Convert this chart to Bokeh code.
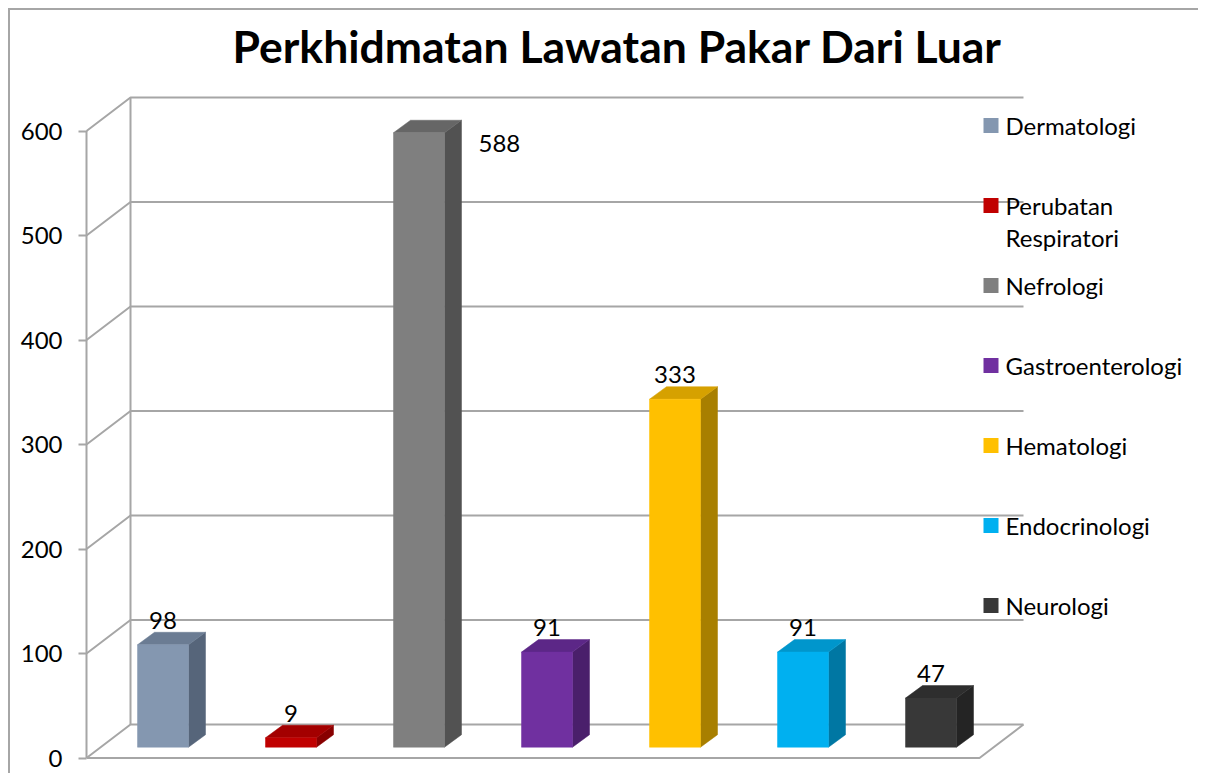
from bokeh.plotting import figure
from bokeh.models import Range1d, FixedTicker, BoxAnnotation, Label, ColumnDataSource
from bokeh.core.properties import value
from bokeh.embed import file_html
from bokeh.resources import INLINE

# ---------------- data ----------------
categories = ["Dermatologi", "Perubatan Respiratori", "Nefrologi", "Gastroenterologi",
              "Hematologi", "Endocrinologi", "Neurologi"]
counts = [98, 9, 588, 91, 333, 91, 47]
front_colors = ["#8497B0", "#C00000", "#7F7F7F", "#7030A0", "#FFC000", "#00B0F0", "#383838"]
side_colors = ["#56657A", "#880000", "#525252", "#4A1F6B", "#A87F00", "#0077A3", "#242424"]
top_colors = ["#6B7C93", "#A30000", "#666666", "#5C2787", "#D6A100", "#0096CC", "#2E2E2E"]
y_ticks = [0, 100, 200, 300, 400, 500, 600]
title_text = "Perkhidmatan Lawatan Pakar Dari Luar"

# ---------------- layout (pixels) ----------------
W, H = 1190, 765
MB_LEFT, MB_TOP, MB_BOTTOM = 74, 0, 12
PX_X = 128.0      # pixels per category
PX_Y = 1.045      # pixels per count unit
FRAME_W = W - MB_LEFT
FRAME_H = H - MB_TOP - MB_BOTTOM
FRAME_BOTTOM_PAGE = 10 + H - MB_BOTTOM

def ux(px):
    return px / PX_X

def uy(px):
    return px / PX_Y

x_start = ux(-78.5)
y_start = uy(-5.5)
x_end = x_start + ux(FRAME_W)
y_end = y_start + uy(FRAME_H)

wall_front = ux(-76.5)
depth_dx, depth_dy = ux(44), uy(33.5)
back_right = ux(860.5)
bar_w = ux(51)
bar_base = uy(10.8)
bar_dx, bar_dy = ux(17), uy(12.5)
grid_color = "#A6A6A6"
FONT = "Lato"

p = figure(width=W, height=H, output_backend="svg", toolbar_location=None,
           x_range=Range1d(x_start, x_end), y_range=Range1d(y_start, y_end),
           x_axis_location=None, min_border_left=MB_LEFT, min_border_top=MB_TOP,
           min_border_bottom=MB_BOTTOM, min_border_right=0, tools="")
p.margin = (8, 0, 0, 8)
p.styles = {"border-left": "2px solid #A6A6A6", "border-top": "2px solid #A6A6A6"}
p.outline_line_color = None
p.xgrid.visible = False
p.ygrid.visible = False

# title (drawn as a label inside the top of the frame)
p.add_layout(Label(x=148, y=FRAME_BOTTOM_PAGE - 45, x_units="screen", y_units="screen",
                   text=title_text, text_font=FONT, text_font_size="44.5px",
                   text_font_style="bold", text_color="black",
                   text_align="left", text_baseline="alphabetic"))

# y axis
ax = p.yaxis[0]
ax.ticker = FixedTicker(ticks=y_ticks)
ax.axis_line_color = None
ax.major_tick_line_color = grid_color
ax.major_tick_line_width = 2
ax.major_tick_out = 6
ax.major_tick_in = 2
ax.minor_tick_line_color = None
ax.major_label_text_font = FONT
ax.major_label_text_font_size = "24px"
ax.major_label_text_color = "black"
ax.major_label_standoff = 16

# walls (side wall + back wall gridlines)
xs, ys = [], []
for v in y_ticks:
    xs.append([wall_front, wall_front + depth_dx, back_right])
    ys.append([v, v + depth_dy, v + depth_dy])
xs.append([wall_front, wall_front]); ys.append([0, y_ticks[-1]])
xs.append([wall_front + depth_dx, wall_front + depth_dx]); ys.append([depth_dy, y_ticks[-1] + depth_dy])
xs.append([wall_front, back_right - depth_dx, back_right]); ys.append([0, 0, depth_dy])
p.multi_line(xs, ys, line_color=grid_color, line_width=2)

# bars
idx = list(range(len(counts)))
lefts = [i - bar_w / 2 for i in idx]
rights = [i + bar_w / 2 for i in idx]
bottoms = [bar_base for _ in idx]
tops = [bar_base + c for c in counts]

side_xs = [[r, r + bar_dx, r + bar_dx, r] for r in rights]
side_ys = [[b, b + bar_dy, t + bar_dy, t] for b, t in zip(bottoms, tops)]
top_xs = [[l, r, r + bar_dx, l + bar_dx] for l, r in zip(lefts, rights)]
top_ys = [[t, t, t + bar_dy, t + bar_dy] for t in tops]

p.patches(side_xs, side_ys, fill_color=side_colors, line_color=side_colors, line_width=0.5)
p.patches(top_xs, top_ys, fill_color=top_colors, line_color=top_colors, line_width=0.5)
p.quad(left=lefts, right=rights, bottom=bottoms, top=tops,
       fill_color=front_colors, line_color=front_colors, line_width=0.5)

# data labels
gap = uy(12)
label_h = uy(20)
lim = y_ticks[-1] + depth_dy
lx, ly, lt, la, lb = [], [], [], [], []
for i, c, t in zip(idx, counts, tops):
    if t + bar_dy + gap + label_h > lim:
        lx.append(i + bar_w / 2 + bar_dx + ux(17)); ly.append(t - uy(11))
        la.append("left"); lb.append("middle")
    else:
        lx.append(i); ly.append(t + bar_dy + gap)
        la.append("center"); lb.append("alphabetic")
    lt.append(str(c))
src = ColumnDataSource(dict(x=lx, y=ly, text=lt, align=la, base=lb))
p.text(x="x", y="y", text="text", text_align="align", text_baseline="base", source=src,
       text_font=value(FONT), text_font_size="24px", text_color="black")

# legend (manual, Excel style)
leg_x = 899                       # screen px from frame left
leg_y0 = FRAME_BOTTOM_PAGE - 125  # screen px from frame bottom
leg_step = 80
for k, (name, col) in enumerate(zip(categories, front_colors)):
    yc = leg_y0 - k * leg_step
    p.add_layout(BoxAnnotation(left=leg_x, right=leg_x + 15, bottom=yc - 7.5, top=yc + 7.5,
                               left_units="screen", right_units="screen",
                               bottom_units="screen", top_units="screen",
                               fill_color=col, fill_alpha=1, line_color=None))
    lines = name.split(" ") if name == "Perubatan Respiratori" else [name]
    for j, ln in enumerate(lines):
        p.add_layout(Label(x=leg_x + 22, y=yc - j * 32, x_units="screen", y_units="screen",
                           text=ln, text_font=FONT, text_font_size="24px",
                           text_color="black", text_baseline="middle", text_align="left"))

open("out.html", "w").write(file_html(p, INLINE))
